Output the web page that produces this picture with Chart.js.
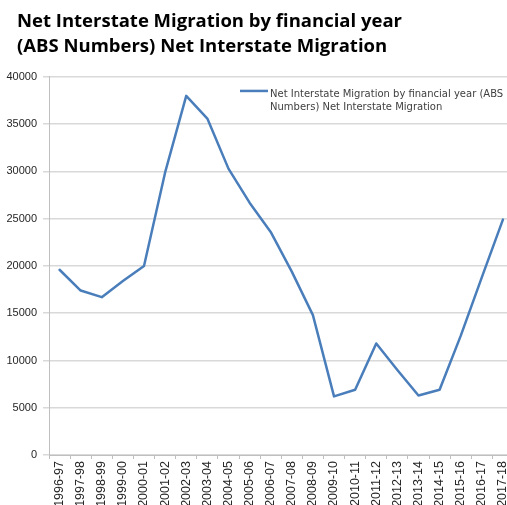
<!DOCTYPE html>
<html>
<head>
<meta charset="utf-8">
<title>Net Interstate Migration</title>
<script src="https://cdn.jsdelivr.net/npm/chart.js@4"></script>
<style>
  html, body { margin: 0; padding: 0; background: #ffffff; overflow: hidden; }
  #wrap { width: 507px; height: 505px; overflow: hidden; position: relative; }
  canvas { display: block; }
</style>
</head>
<body>
<div id="wrap"><canvas id="chart" width="520" height="520"></canvas></div>
<script>
// Financial years (x categories)
const years = [
  '1996-97', '1997-98', '1998-99', '1999-00', '2000-01', '2001-02',
  '2002-03', '2003-04', '2004-05', '2005-06', '2006-07', '2007-08',
  '2008-09', '2009-10', '2010-11', '2011-12', '2012-13', '2013-14',
  '2014-15', '2015-16', '2016-17', '2017-18'
];

// Net interstate migration per year
const netMigration = [
  19600, 17400, 16700, 18400, 20000, 29900,
  38000, 35600, 30300, 26700, 23600, 19400,
  14800, 6200, 6900, 11800, 9000, 6300,
  6900, 12600, 18800, 24900
];

// Value axis ticks
const yTicks = [0, 5000, 10000, 15000, 20000, 25000, 30000, 35000, 40000];

const seriesLabel = 'Net Interstate Migration by financial year (ABS Numbers) Net Interstate Migration';
const titleLines = ['Net Interstate Migration by financial year', '(ABS Numbers) Net Interstate Migration'];

const lineColor = '#4a7ebb';
const FONT = "'Liberation Sans', Arial, sans-serif";
const TITLE_FONT = "'Open Sans', 'Liberation Sans', sans-serif";
const LEGEND_FONT = "'DejaVu Sans', 'Liberation Sans', sans-serif";

// Indent the title block from the left edge of the canvas
const titleIndent = {
  id: 'titleIndent',
  afterLayout(chart) {
    if (chart.titleBlock) chart.titleBlock.left = 17;
  }
};

// Legend box drawn inside the plot area, wrapping the long series name
const insideLegend = {
  id: 'insideLegend',
  afterDatasetsDraw(chart) {
    const ctx = chart.ctx;
    const area = chart.chartArea;
    const ds = chart.data.datasets[0];
    const x0 = area.left + 191;
    const y0 = area.top + 15;
    const maxWidth = 245;
    ctx.save();
    ctx.font = '10px ' + LEGEND_FONT;
    // wrap the label into lines
    const words = ds.label.split(' ');
    const lines = [];
    let cur = '';
    for (const w of words) {
      const test = cur ? cur + ' ' + w : w;
      if (ctx.measureText(test).width > maxWidth && cur) {
        lines.push(cur);
        cur = w;
      } else {
        cur = test;
      }
    }
    if (cur) lines.push(cur);

    ctx.strokeStyle = ds.borderColor;
    ctx.lineWidth = 2.5;
    ctx.lineCap = 'butt';
    ctx.beginPath();
    ctx.moveTo(x0, y0 - 1);
    ctx.lineTo(x0 + 28, y0 - 1);
    ctx.stroke();

    ctx.fillStyle = '#404040';
    ctx.textBaseline = 'middle';
    ctx.textAlign = 'left';
    lines.forEach((ln, i) => ctx.fillText(ln, x0 + 30, y0 + 2 + i * 13));
    ctx.restore();
  }
};

new Chart(document.getElementById('chart'), {
  type: 'line',
  data: {
    labels: years,
    datasets: [{
      label: seriesLabel,
      data: netMigration,
      borderColor: lineColor,
      backgroundColor: lineColor,
      borderWidth: 2.5,
      borderJoinStyle: 'round',
      borderCapStyle: 'round',
      pointRadius: 0,
      pointHoverRadius: 0,
      tension: 0,
      fill: false
    }]
  },
  options: {
    responsive: false,
    animation: false,
    devicePixelRatio: 1,
    layout: { padding: { left: 0, right: 3.5, top: 0, bottom: 0 } },
    plugins: {
      legend: { display: false },
      tooltip: { enabled: false },
      title: {
        display: true,
        text: titleLines,
        align: 'start',
        color: '#000000',
        font: { family: TITLE_FONT, size: 18.5, weight: 'bold', lineHeight: 1.35 },
        padding: { top: 9, bottom: 18 }
      }
    },
    scales: {
      x: {
        type: 'category',
        offset: true,
        afterFit(scale) { scale.height = 65; },
        grid: {
          display: true,
          drawOnChartArea: false,
          drawTicks: true,
          tickLength: 4,
          offset: true,
          color: '#bfbfbf'
        },
        border: { display: true, color: '#bfbfbf', width: 1 },
        ticks: {
          autoSkip: false,
          minRotation: 90,
          maxRotation: 90,
          padding: 2,
          color: '#262626',
          font: { family: FONT, size: 12.5 }
        }
      },
      y: {
        min: 0,
        max: 40000,
        afterFit(scale) { scale.width = 49; },
        afterBuildTicks(scale) { scale.ticks = yTicks.map(v => ({ value: v })); },
        grid: {
          color: '#d9d9d9',
          lineWidth: 1.5,
          drawTicks: true,
          tickLength: 6
        },
        border: { display: true, color: '#bfbfbf', width: 1 },
        ticks: {
          padding: 6,
          color: '#262626',
          font: { family: FONT, size: 11 },
          callback: v => String(v)
        }
      }
    }
  },
  plugins: [titleIndent, insideLegend]
});
</script>
</body>
</html>
